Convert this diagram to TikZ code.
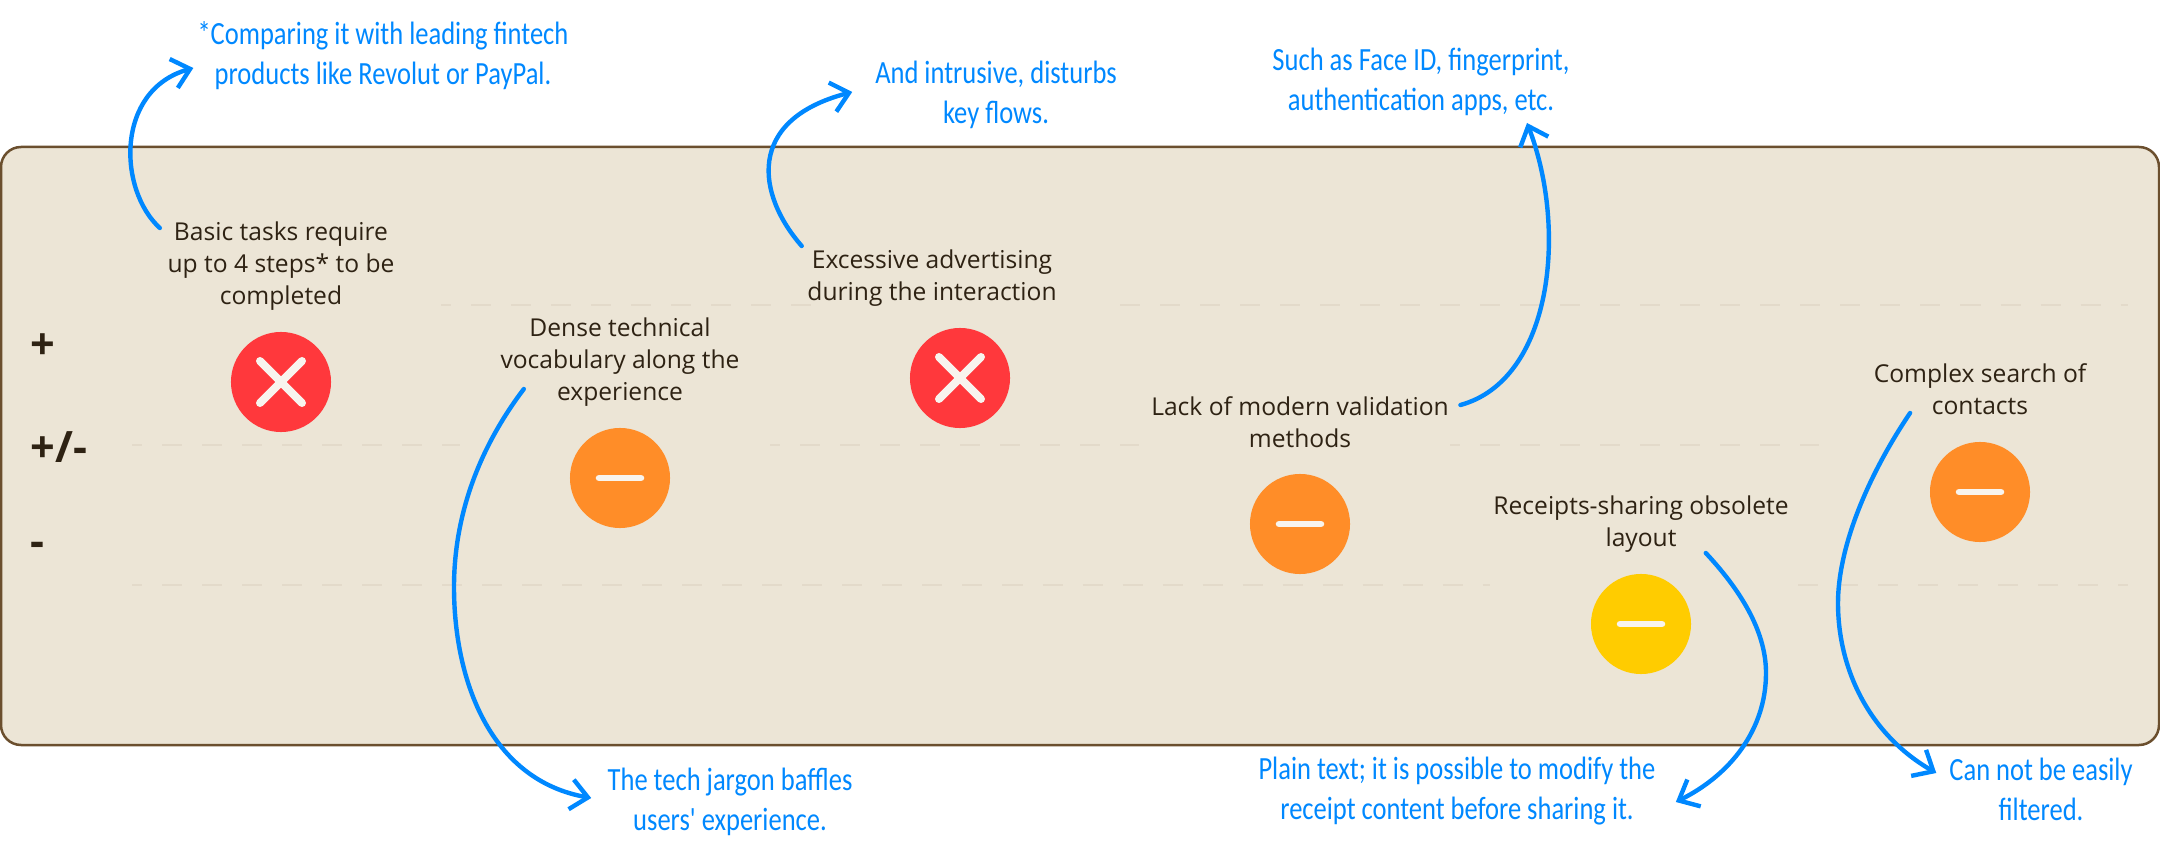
\documentclass[tikz,border=0pt]{standalone}
\usepackage{fontspec}
\setmainfont{Open Sans}
\newfontfamily\notefont[FakeStretch=0.82]{Carlito}
\usepackage{xcolor}
\usetikzlibrary{arrows.meta}
\definecolor{panelfill}{HTML}{ECE5D6}
\definecolor{panelline}{HTML}{6B4F2E}
\definecolor{gridline}{HTML}{E3DACA}
\definecolor{inktext}{HTML}{2E2213}
\definecolor{noteblue}{HTML}{0088FF}
\definecolor{badred}{HTML}{FF383C}
\definecolor{midorange}{HTML}{FF8D28}
\definecolor{lowyellow}{HTML}{FFCC00}
\definecolor{glyphwhite}{HTML}{F8F4EE}
\tikzset{
  painpoint/.style={inner sep=0pt, align=center, text=inktext, font=\fontsize{7}{9.15}\selectfont},
  sidenote/.style={inner sep=0pt, align=center, text=noteblue, font=\notefont\fontsize{9.2}{11.4}\selectfont},
  rowlabel/.style={inner sep=0pt, anchor=west, text=inktext, font=\fontsize{12.3}{14}\selectfont\bfseries},
  badge/.style={circle, minimum size=1cm, inner sep=0pt},
  glyph/.style={draw=glyphwhite, line width=0.065cm, line cap=round},
  guide/.style={draw=gridline, line width=0.022cm, dash pattern=on 0.2cm off 0.2cm},
  callout/.style={draw=noteblue, line width=0.044cm, line cap=round, line join=round, -{Straight Barb[length=0.17cm, width=0.3cm]}}
}
\begin{document}
\begin{tikzpicture}[x=0.01cm, y=-0.01cm]
\useasboundingbox (0,0) rectangle (2160,852);
\draw[panelline, fill=panelfill, line width=0.025cm, rounded corners=0.2cm] (1,147) rectangle (2159,745);
\foreach \y/\xa/\xb/\ph in {305/441/811/0.1cm, 305/1120/2128/0cm, 445/132/460/0.1cm, 445/770/1139/0.1cm, 445/1450/1819/0.1cm, 585/132/1490/0.1cm, 585/1798/2128/0cm}
  \draw[guide, dash phase=\ph] (\xa,\y) -- (\xb,\y);
\foreach \y/\lab in {347/+, 447/{+/-}, 549/-}
  \node[rowlabel] at (30,\y) {\lab};
\foreach \name/\x/\y/\col in {a/281/382/badred, c/960/378/badred, b/620/478/midorange, d/1300/524/midorange, e/1641/624/lowyellow, f/1980/492/midorange}
  \node[badge, fill=\col] (m\name) at (\x,\y) {};
\foreach \name in {ma,mc} {
  \draw[glyph, line width=0.08cm] ([shift={(-21,-21)}]\name.center) -- ([shift={(21,21)}]\name.center);
  \draw[glyph, line width=0.08cm] ([shift={(-21,21)}]\name.center) -- ([shift={(21,-21)}]\name.center);
}
\foreach \name in {mb,md,me,mf}
  \draw[glyph] ([xshift=-0.21cm]\name.center) -- ([xshift=0.21cm]\name.center);
\node[painpoint, minimum width=2.26cm] (ta) at (281,266) {Basic tasks require\\up to 4 steps* to be\\completed};
\node[painpoint, minimum width=2.36cm] (tb) at (620,362) {Dense technical\\vocabulary along the\\experience};
\node[painpoint, minimum width=2.44cm] (tc) at (932,278) {Excessive advertising\\during the interaction};
\node[painpoint, minimum width=2.92cm] (td) at (1300,422) {Lack of modern validation\\methods};
\node[painpoint, minimum width=2.96cm] (te) at (1641,524) {Receipts-sharing obsolete\\layout};
\node[painpoint, minimum width=2.12cm] (tf) at (1980,389) {Complex search of\\contacts};
\node[sidenote, minimum width=3.67cm] (na) at (383,56) {*Comparing it with leading fintech\\products like Revolut or PayPal.};
\node[sidenote, minimum width=2.43cm] (nc) at (996,95) {And intrusive, disturbs\\key flows.};
\node[sidenote, minimum width=2.96cm] (nd) at (1421,82) {Such as Face ID, fingerprint,\\authentication apps, etc.};
\node[sidenote, minimum width=2.46cm] (nb) at (730,802) {The tech jargon baffles\\users' experience.};
\node[sidenote, minimum width=4.09cm] (ne) at (1457,791) {Plain text; it is possible to modify the\\receipt content before sharing it.};
\node[sidenote, minimum width=1.84cm] (nf) at (2041,789) {Can not be easily\\filtered.};
\draw[callout] ([shift={(-7,-38)}]ta.west) .. controls (118,190) and (115,90) .. ([shift={(-3.5,12)}]na.west);
\draw[callout] ([shift={(-5,-32)}]tc.west) .. controls (757,195) and (745,120) .. ([shift={(-21.5,-3)}]nc.west);
\draw[callout] ([shift={(11,-17)}]td.east) .. controls (1552,380) and (1568,230) .. ([shift={(106,41)}]nd.center);
\draw[callout] ([shift={(24,27)}]tb.west) .. controls (470,460) and (454,530) .. (454,587) .. controls (454,680) and (490,780) .. ([shift={(-15,-4)}]nb.west);
\draw[callout] ([shift={(-84,29)}]te.east) .. controls (1745,595) and (1766,635) .. (1766,673) .. controls (1766,730) and (1730,775) .. ([shift={(13.5,11)}]ne.east);
\draw[callout] ([shift={(37,24)}]tf.west) .. controls (1865,480) and (1838,550) .. (1838,603) .. controls (1838,670) and (1870,735) .. ([shift={(-12,-16)}]nf.west);
\end{tikzpicture}
\end{document}
